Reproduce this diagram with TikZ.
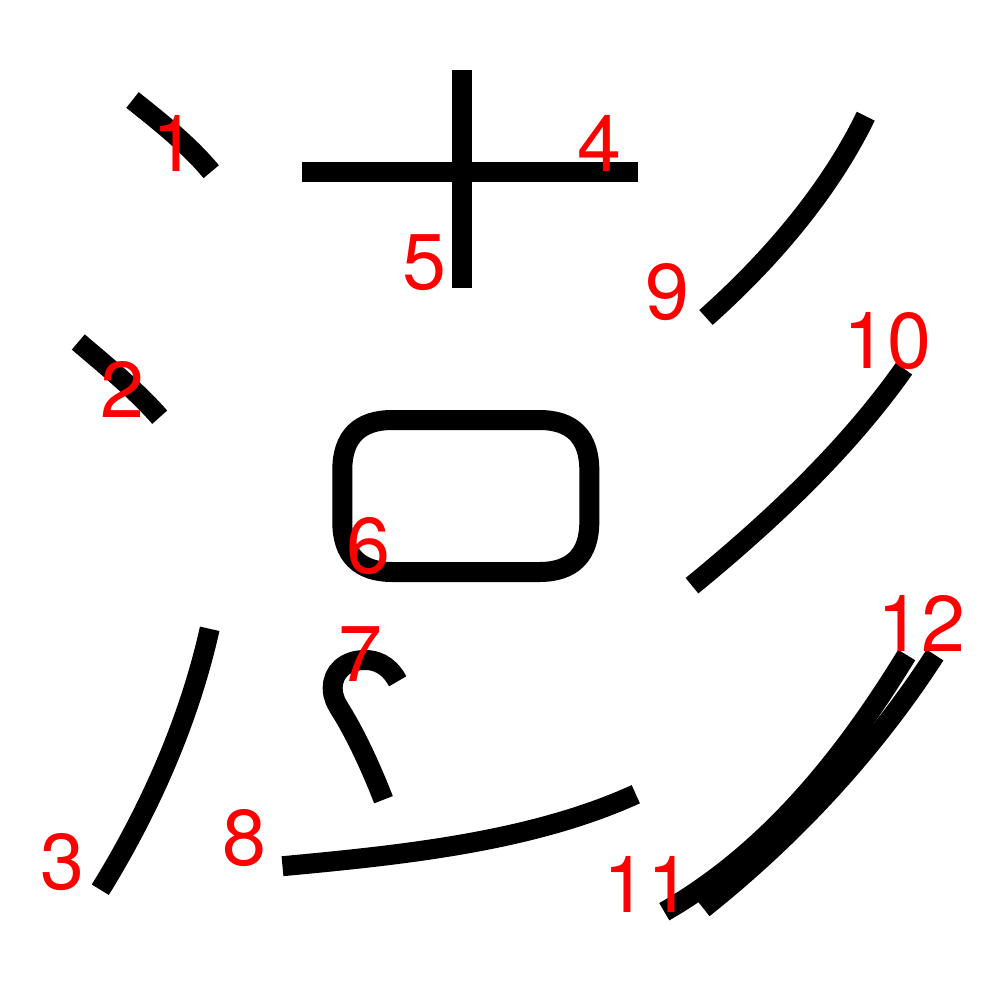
\documentclass[tikz,border=0pt]{standalone}
\usepackage{fontspec}
\setmainfont{TeX Gyre Heros}
\begin{document}
\begin{tikzpicture}[x=0.1mm,y=-0.1mm]
\tikzset{
  kstroke/.style={line width=2mm, black},
  numlabel/.style={text=red, font=\fontsize{22.5pt}{27pt}\selectfont, inner sep=0pt, anchor=base}
}
\fill[white] (0,0) rectangle (1000,1000);
\useasboundingbox (0,0) rectangle (1000,1000);
% strokes
\draw[kstroke] (132.5,100) .. controls (159.8,121.7) and (188.8,144.7) .. (211.2,171.7);
\draw[kstroke] (78.3,342) .. controls (106.4,366) and (135.3,389.5) .. (159.7,417.2);
\draw[kstroke] (209.7,628.8) .. controls (190,717) and (152,806) .. (100.3,889.7);
\draw[kstroke] (302,171.7) -- (637.7,171.7);
\draw[kstroke] (462.2,70) -- (462.2,287.7);
\draw[kstroke] (392.3,420) -- (539.3,420) .. controls (572.3,420) and (589.3,437) .. (589.3,470)
  -- (589.3,522) .. controls (589.3,555) and (572.3,572) .. (539.3,572)
  -- (392.3,572) .. controls (359.3,572) and (342.3,555) .. (342.3,522)
  -- (342.3,470) .. controls (342.3,437) and (359.3,420) .. (392.3,420) -- cycle;
\draw[kstroke] (397.7,681.3) .. controls (392,670.5) and (382,660) .. (365,660)
  .. controls (345,660) and (332.7,672) .. (332.7,688)
  .. controls (332.7,697) and (336,703) .. (341,711)
  .. controls (356,735) and (372,770) .. (383.5,799.7);
\draw[kstroke] (282.5,866.2) .. controls (397.5,855.4) and (530,842.5) .. (635.8,794.2);
\draw[kstroke] (865.8,116.2) .. controls (828.4,192.7) and (769.8,260.5) .. (706,317.5);
\draw[kstroke] (904,368.7) .. controls (846,450.7) and (770,521.7) .. (692,585.7);
\draw[kstroke] (906.7,655) .. controls (844.3,757) and (768.7,851.7) .. (664.3,911.7);
\draw[kstroke] (935,655) .. controls (873,751) and (793,837) .. (703.3,908.3);
% labels
\node[numlabel] (n1) at (174,171.7) {1};
\node[numlabel] (n2) at (122.2,417.7) {2};
\node[numlabel] (n3) at (62.2,889.5) {3};
\node[numlabel] (n4) at (599.7,171.7) {4};
\node[numlabel] (n5) at (424.2,289) {5};
\node[numlabel] (n6) at (368,573) {6};
\node[numlabel] (n7) at (360.3,681.7) {7};
\node[numlabel] (n8) at (244.2,865.7) {8};
\node[numlabel] (n9) at (667.8,319) {9};
\node[numlabel] (n10) at (887.4,368.3) {10};
\node[numlabel] (n11) at (647.9,912.7) {11};
\node[numlabel] (n12) at (921.4,651.7) {12};
\end{tikzpicture}
\end{document}
